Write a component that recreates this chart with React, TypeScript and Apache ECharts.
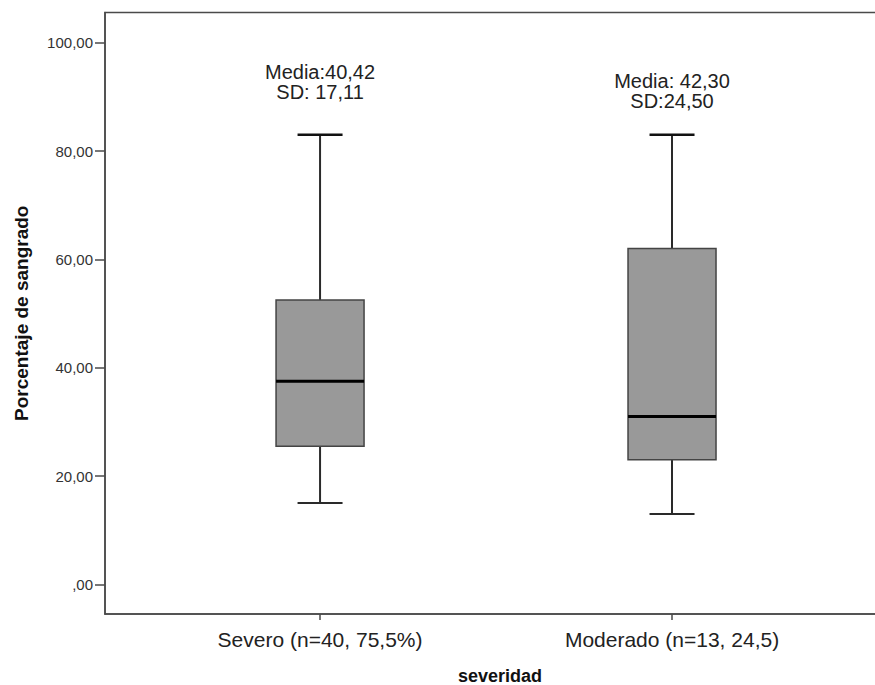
import React, { useEffect, useRef } from "react";
import * as echarts from "echarts";

const categories = ["Severo (n=40, 75,5%)", "Moderado (n=13, 24,5)"];
const xPositions = [1, 2];
const lowerWhisker = [15, 13];
const q1 = [25.5, 23];
const median = [37.5, 31];
const q3 = [52.5, 62];
const upperWhisker = [83, 83];
const annotations = ["Media:40,42\nSD: 17,11", "Media: 42,30\nSD:24,50"];
const yTicks = [0, 20, 40, 60, 80, 100];

const FONT = "'Liberation Sans', Arial, sans-serif";

export default function App() {
  const ref = useRef<HTMLDivElement>(null);
  useEffect(() => {
    document.body.style.margin = "0";
    document.body.style.overflow = "hidden";
    if (!ref.current) return;
    const chart = echarts.init(ref.current, null, { renderer: "svg" });
    const data = xPositions.map((x, i) => [
      x,
      lowerWhisker[i],
      q1[i],
      median[i],
      q3[i],
      upperWhisker[i],
    ]);
    const annOffset = [-53, -44];
    chart.setOption({
      animation: false,
      backgroundColor: "#ffffff",
      grid: {
        left: 105,
        top: 12.5,
        width: 790,
        bottom: 71,
        show: true,
        borderColor: "#4a4a4a",
        borderWidth: 1.5,
        backgroundColor: "transparent",
        containLabel: false,
        outerBoundsMode: "none",
      },
      xAxis: {
        type: "value",
        min: 0.389,
        max: 2.6335,
        name: "severidad",
        nameLocation: "middle",
        nameGap: 53,
        nameTextStyle: {
          fontFamily: FONT,
          fontWeight: "bold",
          fontSize: 18,
          color: "#111",
          align: "center",
        },
        axisLine: { show: true, onZero: false, lineStyle: { color: "#4a4a4a", width: 1.5 } },
        splitLine: { show: false },
        axisTick: {
          show: true,
          customValues: xPositions,
          length: 6,
          lineStyle: { color: "#4a4a4a", width: 1.5 },
        },
        axisLabel: {
          customValues: xPositions,
          margin: 15,
          fontFamily: FONT,
          fontSize: 21,
          color: "#222",
          formatter: (v: number) => {
            const idx = xPositions.indexOf(Math.round(v));
            return idx >= 0 ? categories[idx] : "";
          },
        },
      },
      yAxis: {
        type: "value",
        min: -5.48,
        max: 105.58,
        name: "Porcentaje de sangrado",
        nameLocation: "middle",
        nameRotate: 90,
        nameGap: 74,
        nameTextStyle: {
          fontFamily: FONT,
          fontWeight: "bold",
          fontSize: 19,
          color: "#111",
        },
        axisLine: { show: true, onZero: false, lineStyle: { color: "#4a4a4a", width: 1.5 } },
        splitLine: { show: false },
        axisTick: {
          show: true,
          customValues: yTicks,
          length: 10,
          lineStyle: { color: "#4a4a4a", width: 1.5 },
        },
        axisLabel: {
          customValues: yTicks,
          margin: 12,
          fontFamily: FONT,
          fontSize: 15,
          color: "#333",
          formatter: (v: number) =>
            v === 0 ? ",00" : v.toFixed(2).replace(".", ","),
        },
      },
      series: [
        {
          type: "custom",
          data,
          clip: false,
          renderItem: (params: any, api: any) => {
            const i = params.dataIndex;
            const x = api.value(0);
            const pMin = api.coord([x, api.value(1)]);
            const pQ1 = api.coord([x, api.value(2)]);
            const pMed = api.coord([x, api.value(3)]);
            const pQ3 = api.coord([x, api.value(4)]);
            const pMax = api.coord([x, api.value(5)]);
            const cx = pMin[0];
            const halfBox = 44;
            const halfCap = 22.5;
            const lineStyle = { stroke: "#2a2a2a", lineWidth: 2 };
            return {
              type: "group",
              children: [
                {
                  type: "line",
                  shape: { x1: cx, y1: pMax[1], x2: cx, y2: pQ3[1] },
                  style: lineStyle,
                },
                {
                  type: "line",
                  shape: { x1: cx, y1: pQ1[1], x2: cx, y2: pMin[1] },
                  style: lineStyle,
                },
                {
                  type: "line",
                  shape: { x1: cx - halfCap, y1: pMax[1], x2: cx + halfCap, y2: pMax[1] },
                  style: { stroke: "#111", lineWidth: 2.5 },
                },
                {
                  type: "line",
                  shape: { x1: cx - halfCap, y1: pMin[1], x2: cx + halfCap, y2: pMin[1] },
                  style: lineStyle,
                },
                {
                  type: "rect",
                  shape: {
                    x: cx - halfBox,
                    y: pQ3[1],
                    width: halfBox * 2,
                    height: pQ1[1] - pQ3[1],
                  },
                  style: { fill: "#999999", stroke: "#444444", lineWidth: 1.5 },
                },
                {
                  type: "line",
                  shape: { x1: cx - halfBox, y1: pMed[1], x2: cx + halfBox, y2: pMed[1] },
                  style: { stroke: "#000000", lineWidth: 3 },
                },
                {
                  type: "text",
                  x: cx,
                  y: pMax[1] + annOffset[i],
                  style: {
                    text: annotations[i],
                    fontFamily: FONT,
                    fontSize: 20,
                    lineHeight: 20,
                    fill: "#222",
                    align: "center",
                    verticalAlign: "middle",
                  },
                },
              ],
            };
          },
        },
      ],
    });
    return () => chart.dispose();
  }, []);
  return <div ref={ref} style={{ width: 875, height: 685, overflow: "hidden" }} />;
}
